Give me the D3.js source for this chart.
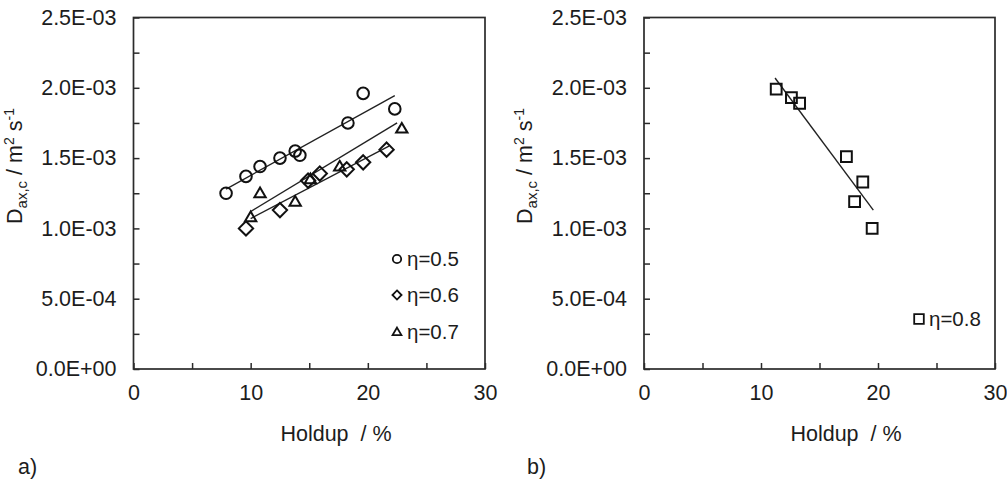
<!DOCTYPE html>
<html>
<head>
<meta charset="utf-8">
<script src="https://cdn.jsdelivr.net/npm/d3@7"></script>
<style>
  html, body { margin: 0; padding: 0; background: #fff; }
  svg { display: block; font-family: Arial, "Liberation Sans", sans-serif; }
</style>
</head>
<body>
<svg id="chart" width="1007" height="486"></svg>
<script>
// Panel a): axial dispersion coefficient vs holdup for three eta values
const holdupA05 = [7.9, 9.6, 10.8, 12.5, 13.8, 14.2, 18.3, 19.6, 22.3];
const daxA05    = [1.25e-3, 1.37e-3, 1.44e-3, 1.50e-3, 1.55e-3, 1.52e-3, 1.75e-3, 1.96e-3, 1.85e-3];
const holdupA06 = [9.6, 12.5, 14.9, 15.9, 18.2, 19.6, 21.6];
const daxA06    = [1.00e-3, 1.13e-3, 1.34e-3, 1.39e-3, 1.42e-3, 1.47e-3, 1.56e-3];
const holdupA07 = [10.0, 10.8, 13.8, 15.1, 17.6, 22.9];
const daxA07    = [1.08e-3, 1.25e-3, 1.19e-3, 1.35e-3, 1.44e-3, 1.71e-3];

// Panel b): eta = 0.8
const holdupB08 = [11.3, 12.6, 13.3, 17.3, 18.7, 18.0, 19.5];
const daxB08    = [1.99e-3, 1.93e-3, 1.89e-3, 1.51e-3, 1.33e-3, 1.19e-3, 1.00e-3];

// Linear trend lines: [holdup, Dax] end points
const trendA05 = [[7.9, 1.28e-3], [22.3, 1.945e-3]];
const trendA06 = [[10.0, 1.07e-3], [21.8, 1.585e-3]];
const trendA07 = [[10.0, 1.12e-3], [22.5, 1.75e-3]];
const trendB08 = [[11.2, 2.07e-3], [19.6, 1.13e-3]];

// Axis ticks
const xTicks = [0, 5, 10, 15, 20, 25, 30];
const xLabels = [0, 10, 20, 30];
const yTicks = d3.range(0, 11).map(i => i * 2.5e-4);
const yLabelStep = 5e-4;

const legendA = ["η=0.5", "η=0.6", "η=0.7"];
const legendB = ["η=0.8"];

const svg = d3.select("#chart");
const FONT = 21.5;
const AXIS_COLOR = "#2b2b2b";
const TEXT_COLOR = "#1c1c1c";

function fmtSci(v) {
  const [m, e] = v.toExponential(1).split("e");
  const sign = e[0] === "-" ? "-" : "+";
  const digits = e.replace(/[+-]/, "").padStart(2, "0");
  return m + "E" + sign + digits;
}

function symbolPath(type, size) {
  const s = size;
  if (type === "circle") return d3.symbol(d3.symbolCircle, Math.PI * s * s)();
  if (type === "square") return `M${-s},${-s}H${s}V${s}H${-s}Z`;
  if (type === "diamond") return `M0,${-s * 1.3}L${s * 1.3},0L0,${s * 1.3}L${-s * 1.3},0Z`;
  if (type === "triangle") return `M0,${-s * 1.05}L${s * 1.05},${s * 0.75}L${-s * 1.05},${s * 0.75}Z`;
}

function panel(opts) {
  const { left, right, top, bottom, series, trends, legend, tag, titleX, titleYLeft } = opts;
  const x = d3.scaleLinear().domain([0, 30]).range([left, right]);
  const y = d3.scaleLinear().domain([0, 2.5e-3]).range([bottom, top]);
  const g = svg.append("g");

  // x axis (ticks inside)
  const xa = g.append("g").attr("transform", `translate(0,${bottom})`)
    .call(d3.axisBottom(x).tickValues(xTicks).tickSizeInner(-6).tickSizeOuter(0).tickPadding(16)
      .tickFormat(d => xLabels.includes(d) ? d : ""));
  // y axis (ticks inside)
  const ya = g.append("g").attr("transform", `translate(${left},0)`)
    .call(d3.axisLeft(y).tickValues(yTicks).tickSizeInner(-6).tickSizeOuter(0).tickPadding(17)
      .tickFormat(d => Math.abs(d / yLabelStep - Math.round(d / yLabelStep)) < 1e-6 ? fmtSci(d) : ""));
  [xa, ya].forEach(a => {
    a.select(".domain").remove();
    a.selectAll(".tick line").attr("stroke", AXIS_COLOR).attr("stroke-width", 1.5);
    a.selectAll(".tick text").attr("font-size", FONT).attr("fill", TEXT_COLOR)
      .attr("font-family", "Arial, 'Liberation Sans', sans-serif");
  });

  // frame
  g.append("rect").attr("x", left).attr("y", top).attr("width", right - left).attr("height", bottom - top)
    .attr("fill", "none").attr("stroke", AXIS_COLOR).attr("stroke-width", 1.7);

  // trend lines
  const line = d3.line().x(d => x(d[0])).y(d => y(d[1]));
  trends.forEach(t => {
    g.append("path").attr("d", line(t)).attr("fill", "none").attr("stroke", "#222").attr("stroke-width", 1.4);
  });

  // markers
  series.forEach(s => {
    g.selectAll(null).data(d3.zip(s.xs, s.ys)).join("path")
      .attr("transform", d => `translate(${x(d[0])},${y(d[1])})`)
      .attr("d", symbolPath(s.type, s.size))
      .attr("fill", "none").attr("stroke", "#111").attr("stroke-width", 2);
  });

  // legend
  legend.forEach(l => {
    g.append("path").attr("transform", `translate(${l.mx},${l.my})`)
      .attr("d", symbolPath(l.type, l.size))
      .attr("fill", "none").attr("stroke", "#111").attr("stroke-width", 1.8);
    g.append("text").attr("x", l.mx + 10).attr("y", l.my + 7)
      .attr("font-size", 20.5).attr("fill", TEXT_COLOR).text(l.label);
  });

  // x axis title
  g.append("text").attr("x", titleX).attr("y", 441).attr("text-anchor", "middle")
    .attr("font-size", FONT).attr("fill", TEXT_COLOR).attr("xml:space", "preserve").text("Holdup  / %");

  // y axis title
  const yt = g.append("text").attr("transform", `translate(${titleYLeft},166) rotate(-90)`)
    .attr("text-anchor", "middle").attr("font-size", FONT).attr("fill", TEXT_COLOR);
  yt.append("tspan").text("D");
  yt.append("tspan").attr("font-size", 15).attr("dy", 5).text("ax,c");
  yt.append("tspan").attr("dy", -5).text(" / m");
  yt.append("tspan").attr("font-size", 14).attr("dy", -8).text("2");
  yt.append("tspan").attr("dy", 8).text(" s");
  yt.append("tspan").attr("font-size", 14).attr("dy", -8).text("-1");

  // panel tag
  g.append("text").attr("x", tag.x).attr("y", 474).attr("font-size", FONT).attr("fill", TEXT_COLOR).text(tag.text);
}

panel({
  left: 133.5, right: 485, top: 17.5, bottom: 369,
  series: [
    { xs: holdupA05, ys: daxA05, type: "circle", size: 5.8 },
    { xs: holdupA06, ys: daxA06, type: "diamond", size: 5.5 },
    { xs: holdupA07, ys: daxA07, type: "triangle", size: 5.4 }
  ],
  trends: [trendA05, trendA06, trendA07],
  legend: [
    { label: legendA[0], type: "circle", size: 4.2, mx: 397, my: 259 },
    { label: legendA[1], type: "diamond", size: 3.5, mx: 397, my: 295 },
    { label: legendA[2], type: "triangle", size: 4.2, mx: 397, my: 332 }
  ],
  tag: { x: 18, text: "a)" },
  titleX: 336, titleYLeft: 22
});

panel({
  left: 644, right: 995, top: 17.5, bottom: 369,
  series: [
    { xs: holdupB08, ys: daxB08, type: "square", size: 5.4 }
  ],
  trends: [trendB08],
  legend: [
    { label: legendB[0], type: "square", size: 4.8, mx: 919, my: 319 }
  ],
  tag: { x: 527, text: "b)" },
  titleX: 846, titleYLeft: 532
});
</script>
</body>
</html>
